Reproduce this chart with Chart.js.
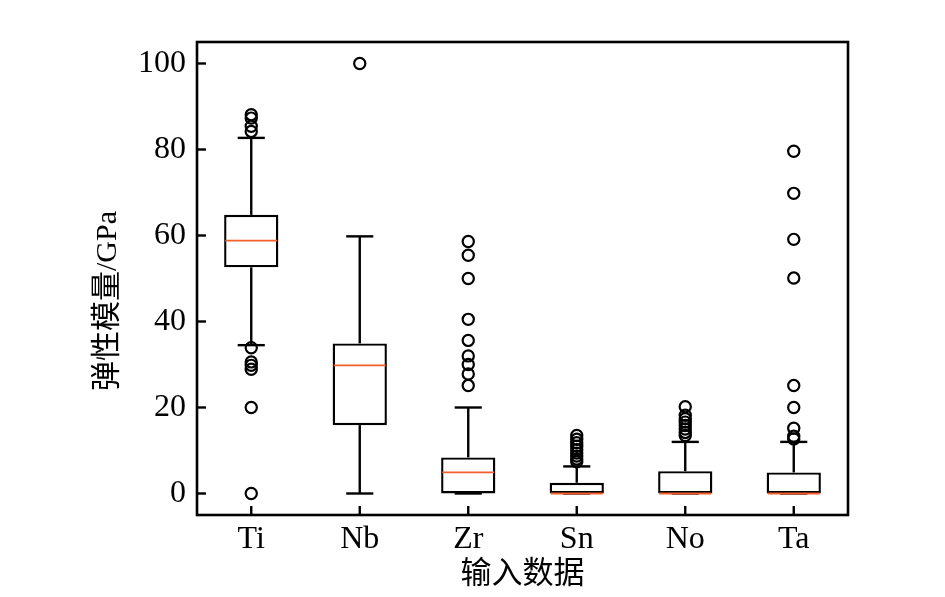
<!DOCTYPE html>
<html>
<head>
<meta charset="utf-8">
<script src="https://cdn.jsdelivr.net/npm/chart.js@4.4.1/dist/chart.umd.min.js"></script>
<style>
  html, body { margin: 0; padding: 0; background: #fff; }
  #wrap { width: 945px; height: 597px; }
</style>
</head>
<body>
<div id="wrap"><canvas id="boxChart" width="945" height="597"></canvas></div>
<script>
// values
const categories = ["Ti", "Nb", "Zr", "Sn", "No", "Ta"];
const q1 = [52.6, 15.9, 0, 0, 0, 0];
const q3 = [64.8, 34.9, 8.4, 2.5, 5.2, 4.9];
const medians = [58.8, 29.8, 4.9, 0, 0, 0];
const whiskerLow = [34.5, 0, 0, 0, 0, 0];
const whiskerHigh = [82.7, 59.8, 20.0, 6.3, 12.0, 12.0];
const outliers = [
    [88.1, 87.3, 85.4, 84.2, 33.9, 30.6, 29.8, 28.9, 20.0, 0],
    [100],
    [58.6, 55.4, 50.0, 40.5, 35.6, 32.0, 30.0, 27.8, 25.1],
    [13.5, 12.6, 11.8, 11.0, 10.2, 9.4, 8.7, 8.0, 7.4],
    [20.2, 18.2, 17.4, 16.6, 15.8, 15.0, 14.2, 13.5],
    [79.6, 69.8, 59.1, 50.1, 25.1, 20.0, 15.2, 13.3, 12.7]
];
const yTicks = [0, 20, 40, 60, 80, 100];

const FONT = "'Liberation Serif', 'Noto Sans CJK SC', serif";

// whiskers, caps, frame and inward tick marks
const boxPlugin = {
    id: "boxWhiskers",
    beforeDatasetsDraw(chart) {
        const { ctx, scales: { x, y } } = chart;
        const catW = x.getPixelForValue(1) - x.getPixelForValue(0);
        const capHalf = catW * 0.125;
        ctx.save();
        ctx.strokeStyle = "#000";
        ctx.lineWidth = 2.4;
        categories.forEach((c, i) => {
            const cx = x.getPixelForValue(i);
            const segs = [[q1[i], whiskerLow[i]], [q3[i], whiskerHigh[i]]];
            segs.forEach(([from, to]) => {
                ctx.beginPath();
                ctx.moveTo(cx, y.getPixelForValue(from));
                ctx.lineTo(cx, y.getPixelForValue(to));
                ctx.stroke();
                ctx.beginPath();
                ctx.moveTo(cx - capHalf, y.getPixelForValue(to));
                ctx.lineTo(cx + capHalf, y.getPixelForValue(to));
                ctx.stroke();
            });
        });
        ctx.restore();
    },
    afterDraw(chart) {
        const { ctx, chartArea: a, scales: { x, y } } = chart;
        ctx.save();
        ctx.strokeStyle = "#000";
        ctx.lineWidth = 2.6;
        ctx.strokeRect(a.left, a.top, a.right - a.left, a.bottom - a.top);
        ctx.lineWidth = 2.4;
        yTicks.forEach(v => {
            const py = y.getPixelForValue(v);
            ctx.beginPath();
            ctx.moveTo(a.left, py);
            ctx.lineTo(a.left + 9, py);
            ctx.stroke();
        });
        categories.forEach((c, i) => {
            const px = x.getPixelForValue(i);
            ctx.beginPath();
            ctx.moveTo(px, a.bottom);
            ctx.lineTo(px, a.bottom - 9);
            ctx.stroke();
        });
        ctx.restore();
    }
};

const outlierPoints = [];
outliers.forEach((list, i) => list.forEach(v => outlierPoints.push({ x: categories[i], y: v })));

new Chart(document.getElementById("boxChart").getContext("2d"), {
    type: "bar",
    data: {
        labels: categories,
        datasets: [
            {
                type: "line",
                label: "outliers",
                data: outlierPoints,
                showLine: false,
                pointStyle: "circle",
                pointRadius: 5.6,
                pointBorderWidth: 2.2,
                pointBorderColor: "#000",
                pointBackgroundColor: "rgba(0,0,0,0)",
                order: 1
            },
            {
                type: "line",
                label: "median",
                data: categories.map((c, i) => ({ x: c, y: medians[i] })),
                showLine: false,
                pointStyle: "line",
                pointRadius: 26,
                pointBorderWidth: 1.8,
                pointBorderColor: "#f2602b",
                order: 2
            },
            {
                label: "box",
                data: categories.map((c, i) => [q1[i], q3[i]]),
                backgroundColor: "#fff",
                borderColor: "#000",
                borderWidth: 2.4,
                borderSkipped: false,
                barPercentage: 0.5,
                categoryPercentage: 1.0,
                order: 3
            }
        ]
    },
    options: {
        responsive: false,
        animation: false,
        layout: { padding: { left: 86, right: 97, top: 42, bottom: 0 } },
        plugins: {
            legend: { display: false },
            tooltip: { enabled: false }
        },
        scales: {
            x: {
                type: "category",
                offset: true,
                grid: { display: false, drawTicks: false, tickLength: 0 },
                border: { display: false },
                ticks: { color: "#000", font: { family: FONT, size: 32 }, padding: 5 },
                title: {
                    display: true,
                    text: "输入数据",
                    color: "#000",
                    font: { family: FONT, size: 31 },
                    padding: { top: 0, bottom: 4 }
                },
                afterFit: s => { s.height = 82; }
            },
            y: {
                min: -5,
                max: 105,
                grid: { display: false, drawTicks: false, tickLength: 0 },
                border: { display: false },
                afterBuildTicks: s => { s.ticks = yTicks.map(v => ({ value: v })); },
                ticks: { color: "#000", font: { family: FONT, size: 32 }, padding: 11 },
                title: {
                    display: true,
                    text: "弹性模量/GPa\u2003\u2002",
                    color: "#000",
                    font: { family: FONT, size: 30 },
                    padding: { top: 4, bottom: 0 }
                },
                afterFit: s => { s.width = 111; }
            }
        }
    },
    plugins: [boxPlugin]
});
</script>
</body>
</html>
